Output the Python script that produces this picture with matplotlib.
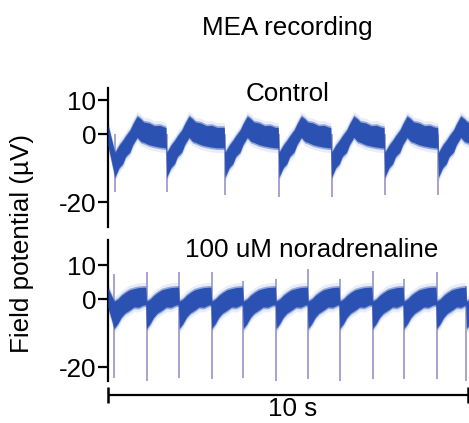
"""MEA field potential traces, control vs 100 uM noradrenaline.

Output: out.png
"""

import numpy as np
import matplotlib
matplotlib.use("Agg")
import matplotlib.pyplot as plt

plt.rcParams["font.family"] = ["Liberation Sans", "DejaVu Sans"]

# ---------------------------------------------------------------------------
# Data (time in s, potential in uV)
# ---------------------------------------------------------------------------
# beat (spike) times
CTRL_BEATS = [0.19, 1.63, 3.25, 4.75, 6.21, 7.69, 9.18]
NA_BEATS = [0.17, 1.07, 1.98, 2.88, 3.76, 4.67, 5.56, 6.44, 7.35, 8.22, 9.13, 9.96]

# spike tips
CTRL_SPIKE_LOW = [-17.0, -17.0, -18.0, -18.5, -18.5, -18.0, -18.0]
CTRL_SPIKE_HIGH = [0.0, 0.0, 0.0, 0.0, 0.0, 0.0, 0.0]
NA_SPIKE_LOW = [-23.0, -24.5, -23.0, -23.5, -23.0, -24.0, -23.5, -24.0, -23.5, -23.5, -23.5, -24.0]
NA_SPIKE_HIGH = [7.5, 8.0, 8.0, 8.0, 5.5, 6.0, 9.0, 6.0, 8.5, 6.0, 8.0, 4.0]

# one beat of the slow waveform after each spike: offset, centre, band half-width
CTRL_WAVE_T = [0.0, 0.12, 0.22, 0.30, 0.42, 0.50, 0.62, 0.72, 0.80, 0.95, 1.10, 1.25, 1.40]
CTRL_WAVE_V = [-9.0, -6.5, -5.2, -3.5, -2.0, 0.0, 2.2, 1.2, 0.6, 0.1, -0.5, -0.6, -1.0]
CTRL_WAVE_W = [3.6, 3.3, 3.4, 3.0, 3.2, 3.0, 3.1, 3.3, 3.0, 3.2, 3.0, 3.2, 3.0]
CTRL_START = (0.0, -0.3, 3.0)

NA_WAVE_T = [0.0, 0.10, 0.20, 0.30, 0.42, 0.55, 0.68, 0.82]
NA_WAVE_V = [-4.5, -3.5, -2.0, -1.0, -0.2, 0.5, 0.6, 1.0]
NA_WAVE_W = [4.0, 3.6, 3.2, 3.0, 3.0, 2.7, 2.9, 2.6]
NA_START = (0.0, 0.5, 2.8)

T_END = 10.03
SCALE_BAR_S = 10

# ---------------------------------------------------------------------------
# Style
# ---------------------------------------------------------------------------
TRACE = "#2b52b3"
HALO = "#9fb0e0"
SPIKE = "#8d8cc2"
FS = 18.7


def _build_trace(beats, wave_t, wave_v, wave_w, start):
    t, v, w = [start[0]], [start[1]], [start[2]]
    nxt = list(beats[1:]) + [T_END + 1.0]
    for b, n in zip(beats, nxt):
        for dt, val, hw in zip(wave_t, wave_v, wave_w):
            if b + dt < n - 0.03:
                t.append(b + dt)
                v.append(val)
                w.append(hw)
        # level just before the next spike
        t.append(n - 0.02)
        v.append(wave_v[-1])
        w.append(wave_w[-1])
    return np.array(t), np.array(v), np.array(w)


def _draw_trace(ax, beats, low, high, wave_t, wave_v, wave_w, start):
    t, v, w = _build_trace(beats, wave_t, wave_v, wave_w, start)
    ax.vlines(beats, low, high, color=SPIKE, lw=1.1, zorder=1)
    # soft fringe around the noise band
    ax.fill_between(t, v - w - 1.4, v + w + 1.4, color=HALO, alpha=0.22,
                    lw=0, zorder=2)
    ax.fill_between(t, v - w - 0.5, v + w + 0.5, color=TRACE, alpha=0.45,
                    lw=0, zorder=2)
    ax.fill_between(t, v - w, v + w, color=TRACE, lw=0, zorder=3)


def _style_axis(ax, ylim):
    ax.set_xlim(0, T_END)
    ax.set_ylim(*ylim)
    ax.set_facecolor("none")
    for s in ("top", "right", "bottom"):
        ax.spines[s].set_visible(False)
    ax.spines["left"].set_linewidth(1.6)
    ax.set_xticks([])
    ax.set_yticks([10, 0, -20])
    ax.set_yticklabels(["10", "0", "-20"])
    ax.tick_params(axis="y", length=7.5, width=1.6, pad=1, labelsize=FS)


def main():
    fig = plt.figure(figsize=(4.69, 4.23), dpi=100)
    fig.patch.set_facecolor("white")

    ax_top = fig.add_axes([108 / 469, 1 - 227 / 423, 361 / 469, 139 / 423])
    ax_bot = fig.add_axes([108 / 469, 1 - 381 / 423, 361 / 469, 141 / 423])

    _draw_trace(ax_top, CTRL_BEATS, CTRL_SPIKE_LOW, CTRL_SPIKE_HIGH,
                CTRL_WAVE_T, CTRL_WAVE_V, CTRL_WAVE_W, CTRL_START)
    _draw_trace(ax_bot, NA_BEATS, NA_SPIKE_LOW, NA_SPIKE_HIGH,
                NA_WAVE_T, NA_WAVE_V, NA_WAVE_W, NA_START)

    _style_axis(ax_top, (-27.3, 13.6))
    _style_axis(ax_bot, (-24.0, 17.5))

    # time scale bar under the lower trace
    ax_bot.plot([0, SCALE_BAR_S], [-28.1, -28.1], color="black", lw=1.6,
                clip_on=False, solid_capstyle="butt")
    for x in (0, SCALE_BAR_S):
        ax_bot.plot([x, x], [-25.7, -30.4], color="black", lw=1.8,
                    clip_on=False, solid_capstyle="butt")

    fig.text(0.613, 0.917, "MEA recording", ha="center", va="baseline", fontsize=FS)
    fig.text(0.614, 0.761, "Control", ha="center", va="baseline", fontsize=FS)
    fig.text(0.664, 0.392, "100 uM noradrenaline", ha="center", va="baseline",
             fontsize=FS)
    fig.text(0.624, 0.017, f"{SCALE_BAR_S} s", ha="center", va="baseline",
             fontsize=FS)
    fig.text(0.047, 0.4255, "Field potential (µV)", ha="center", va="center",
             rotation=90, fontsize=FS)

    fig.savefig("out.png", dpi=100, facecolor="white")
    plt.close(fig)


if __name__ == "__main__":
    main()
